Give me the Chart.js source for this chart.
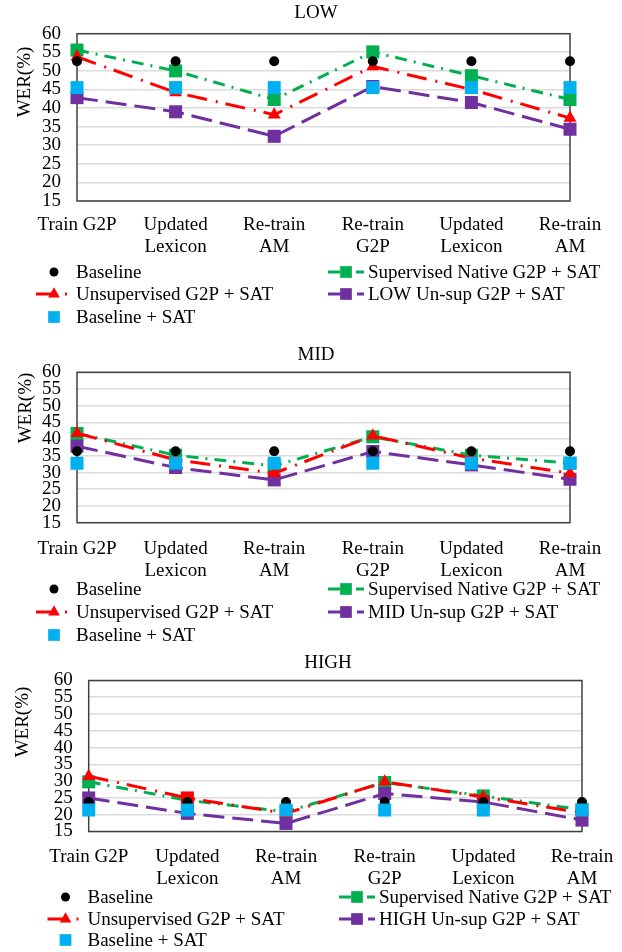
<!DOCTYPE html>
<html>
<head>
<meta charset="utf-8">
<script src="https://cdn.jsdelivr.net/npm/chart.js@4.4.1/dist/chart.umd.min.js"></script>
<style>
  html, body { margin: 0; padding: 0; background: #fff; }
  body { width: 622px; height: 952px; position: relative; overflow: hidden; }
  .panel { position: absolute; left: 0; width: 622px; }
</style>
</head>
<body>
<div class="panel" style="top:0;height:335px"><canvas id="lowChart"></canvas></div>
<div class="panel" style="top:335px;height:310px"><canvas id="midChart"></canvas></div>
<div class="panel" style="top:645px;height:307px"><canvas id="highChart"></canvas></div>
<script>
const FONT = '"Liberation Serif", "Times New Roman", serif';

const categories = ['Train G2P', ['Updated', 'Lexicon'], ['Re-train', 'AM'], ['Re-train', 'G2P'], ['Updated', 'Lexicon'], ['Re-train', 'AM']];
const yMin = 15;
const yMax = 60;
const yStep = 5;

// LOW
const lowBaseline = [52.6, 52.6, 52.6, 52.6, 52.6, 52.6];
const lowSupervised = [55.6, 50.0, 42.3, 55.1, 48.7, 42.3];
const lowUnsup = [53.8, 44.2, 38.2, 51.2, 45.0, 37.3];
const lowUnsupLang = [42.8, 39.0, 32.4, 45.8, 41.5, 34.3];
const lowBaselineSat = [45.5, 45.5, 45.5, 45.5, 45.5, 45.5];

// MID
const midBaseline = [36.4, 36.4, 36.4, 36.4, 36.4, 36.4];
const midSupervised = [41.7, 35.2, 32.0, 40.7, 35.2, 32.8];
const midUnsup = [41.8, 33.8, 29.8, 41.0, 34.3, 29.8];
const midUnsupLang = [37.9, 31.5, 27.8, 36.3, 32.3, 28.0];
const midBaselineSat = [32.8, 32.8, 32.8, 32.8, 32.8, 32.8];

// HIGH
const highBaseline = [23.8, 23.8, 23.8, 23.8, 23.8, 23.8];
const highSupervised = [29.8, 24.3, 20.9, 29.6, 25.6, 21.5];
const highUnsup = [31.5, 25.0, 20.4, 29.8, 25.3, 20.6];
const highUnsupLang = [25.0, 20.4, 17.4, 26.3, 23.8, 18.4];
const highBaselineSat = [21.4, 21.4, 21.4, 21.4, 21.4, 21.4];

const styles = {
    baseline:    { color: '#000000', pointStyle: 'circle',   radius: 5,   showLine: false, dash: [],            order: 2 },
    supervised:  { color: '#00b050', pointStyle: 'rect',     radius: 9.2, showLine: true,  dash: [12, 7, 2, 7], order: 5 },
    unsup:       { color: '#ff0000', pointStyle: 'triangle', radius: 7.5, showLine: true,  dash: [20, 9, 2, 8], order: 3 },
    unsupLang:   { color: '#7030a0', pointStyle: 'rect',     radius: 9.2, showLine: true,  dash: [21, 8],       order: 4 },
    baselineSat: { color: '#00b0f0', pointStyle: 'rect',     radius: 9.2, showLine: false, dash: [],            order: 1 }
};

const panels = [
    {
        id: 'lowChart', title: 'LOW', height: 335,
        area: { left: 77, right: 570, top: 33.7, bottom: 201 },
        titlePos: [316, 12.7], yTitlePos: [25, 82], tickPad: 5,
        legendRows: [272, 294, 317], legendX: [36, 328],
        series: [lowBaseline, lowSupervised, lowUnsup, lowUnsupLang, lowBaselineSat]
    },
    {
        id: 'midChart', title: 'MID', height: 310,
        area: { left: 77, right: 570, top: 37.3, bottom: 187.7 },
        titlePos: [316, 20], yTitlePos: [26, 73], tickPad: 7,
        legendRows: [254, 277, 300], legendX: [36, 328],
        series: [midBaseline, midSupervised, midUnsup, midUnsupLang, midBaselineSat]
    },
    {
        id: 'highChart', title: 'HIGH', height: 307,
        area: { left: 88.7, right: 582, top: 35.5, bottom: 186.5 },
        titlePos: [328, 18], yTitlePos: [23.5, 77], tickPad: 6.5,
        legendRows: [252, 274, 295], legendX: [47.5, 339],
        series: [highBaseline, highSupervised, highUnsup, highUnsupLang, highBaselineSat],
        unsupPointStyle: ['triangle', 'rect', 'triangle', 'triangle', 'triangle', 'triangle'],
        unsupPointRadius: [7.5, 9.2, 7.5, 7.5, 7.5, 7.5]
    }
];

function drawMarker(ctx, style, r, x, y, color) {
    ctx.fillStyle = color;
    ctx.beginPath();
    if (style === 'circle') {
        ctx.arc(x, y, r, 0, Math.PI * 2);
    } else if (style === 'rect') {
        const s = r * Math.SQRT1_2;
        ctx.rect(x - s, y - s, 2 * s, 2 * s);
    } else if (style === 'triangle') {
        const w = r * Math.sqrt(3) / 2;
        ctx.moveTo(x, y - r);
        ctx.lineTo(x + w, y + r / 2);
        ctx.lineTo(x - w, y + r / 2);
        ctx.closePath();
    }
    ctx.fill();
}

const decorPlugin = {
    id: 'decor',
    beforeDatasetsDraw(chart) {
        const { ctx, chartArea: a } = chart;
        ctx.save();
        ctx.strokeStyle = '#404040';
        ctx.lineWidth = 1.5;
        ctx.strokeRect(a.left, a.top, a.right - a.left, a.bottom - a.top);
        ctx.restore();
    },
    afterDraw(chart) {
        const p = chart.options.plugins.decor;
        const ctx = chart.ctx;
        ctx.save();
        ctx.font = '19px ' + FONT;
        ctx.fillStyle = '#000';
        ctx.textBaseline = 'middle';
        ctx.textAlign = 'center';
        ctx.fillText(p.title, p.titlePos[0], p.titlePos[1]);

        ctx.save();
        ctx.translate(p.yTitlePos[0], p.yTitlePos[1]);
        ctx.rotate(-Math.PI / 2);
        ctx.fillText('WER(%)', 0, 0);
        ctx.restore();

        // legend: two columns, row-wise order
        const grid = [[0, 1], [2, 3], [4]];
        const sets = chart.data.datasets;
        grid.forEach((row, ri) => {
            row.forEach((di, ci) => {
                const ds = sets[di];
                const st = ds.legendStyle;
                const x0 = p.legendX[ci];
                const y = p.legendRows[ri];
                if (st.showLine) {
                    ctx.save();
                    ctx.strokeStyle = st.color;
                    ctx.lineWidth = 3;
                    ctx.setLineDash(st.dash);
                    ctx.beginPath();
                    ctx.moveTo(x0, y);
                    ctx.lineTo(x0 + 36, y);
                    ctx.stroke();
                    ctx.restore();
                }
                drawMarker(ctx, st.pointStyle, st.radius * 0.9, x0 + 18, y, st.color);
                ctx.fillStyle = '#000';
                ctx.textAlign = 'left';
                ctx.fillText(ds.label, x0 + 40, y + 1);
            });
        });
        ctx.restore();
    }
};

function makeDataset(key, label, data, extra) {
    const st = styles[key];
    return Object.assign({
        label,
        data,
        borderColor: st.color,
        backgroundColor: st.color,
        borderWidth: 3,
        borderDash: st.dash,
        showLine: st.showLine,
        tension: 0,
        fill: false,
        pointStyle: st.pointStyle,
        pointRadius: st.radius,
        pointBorderWidth: 0,
        pointBackgroundColor: st.color,
        order: st.order,
        clip: false,
        legendStyle: st
    }, extra || {});
}

panels.forEach(p => {
    const [base, sup, uns, unl, bsat] = p.series;
    const unsExtra = {};
    if (p.unsupPointStyle) {
        unsExtra.pointStyle = p.unsupPointStyle;
        unsExtra.pointRadius = p.unsupPointRadius;
    }
    new Chart(document.getElementById(p.id), {
        type: 'line',
        data: {
            labels: categories,
            datasets: [
                makeDataset('baseline', 'Baseline', base),
                makeDataset('supervised', 'Supervised Native G2P + SAT', sup),
                makeDataset('unsup', 'Unsupervised G2P + SAT', uns, unsExtra),
                makeDataset('unsupLang', p.title + ' Un-sup G2P + SAT', unl),
                makeDataset('baselineSat', 'Baseline + SAT', bsat)
            ]
        },
        options: {
            responsive: true,
            maintainAspectRatio: false,
            animation: false,
            layout: { padding: { left: 0, right: 622 - p.area.right, top: p.area.top, bottom: 0 } },
            plugins: {
                legend: { display: false },
                title: { display: false },
                tooltip: { enabled: false },
                decor: p
            },
            scales: {
                x: {
                    offset: false,
                    grid: { display: false },
                    border: { display: false },
                    ticks: {
                        color: '#000',
                        font: { family: FONT, size: 19, lineHeight: 1.16 },
                        padding: p.tickPad,
                        maxRotation: 0,
                        autoSkip: false
                    },
                    afterFit: s => { s.height = p.height - p.area.bottom; }
                },
                y: {
                    min: yMin,
                    max: yMax,
                    ticks: {
                        stepSize: yStep,
                        autoSkip: false,
                        color: '#000',
                        font: { family: FONT, size: 19 },
                        padding: 16
                    },
                    grid: { color: '#dcdcdc', lineWidth: 1.6, drawTicks: false },
                    border: { display: false },
                    afterFit: s => { s.width = p.area.left; }
                }
            }
        },
        plugins: [decorPlugin]
    });
});
</script>
</body>
</html>
